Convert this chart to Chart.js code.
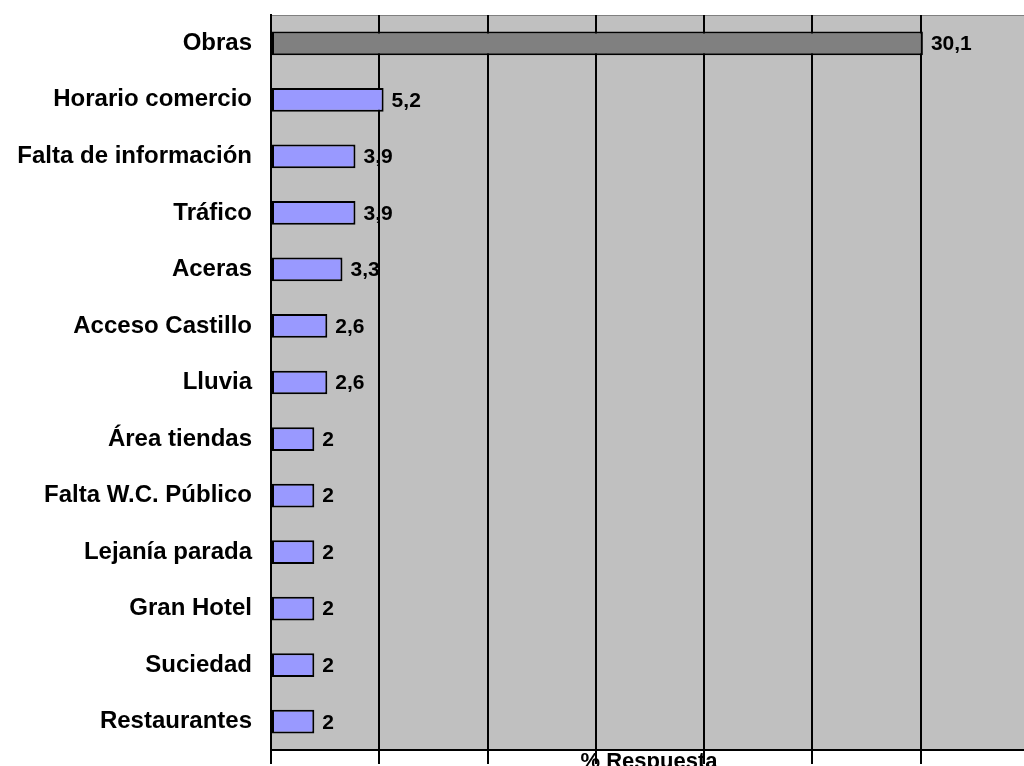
<!DOCTYPE html>
<html>
<head>
<meta charset="utf-8">
<script src="https://cdn.jsdelivr.net/npm/chart.js@4/dist/chart.umd.min.js"></script>
<style>
  html, body { margin: 0; padding: 0; background: #fff; overflow: hidden; }
  #chart { display: block; }
</style>
</head>
<body>
<canvas id="chart" width="1030" height="766"></canvas>
<script>
// datos
const categorias = ['Obras', 'Horario comercio', 'Falta de información', 'Tráfico', 'Aceras',
  'Acceso Castillo', 'Lluvia', 'Área tiendas', 'Falta W.C. Público', 'Lejanía parada',
  'Gran Hotel', 'Suciedad', 'Restaurantes'];
const valores = [30.1, 5.2, 3.9, 3.9, 3.3, 2.6, 2.6, 2, 2, 2, 2, 2, 2];
const ejeMin = 0;
const ejeMax = 35;
const paso = 5;
const tituloEje = '% Respuesta';

const FONT = 'Arial, "Liberation Sans", sans-serif';

/** fondo gris del área de trazado */
const fondoPlugin = {
  id: 'fondo',
  beforeDraw(chart) {
    const { ctx, chartArea: a } = chart;
    ctx.save();
    ctx.fillStyle = '#C0C0C0';
    ctx.fillRect(a.left, a.top, a.right - a.left, a.bottom - a.top);
    ctx.strokeStyle = '#808080';
    ctx.lineWidth = 1;
    ctx.beginPath();
    ctx.moveTo(a.left, a.top + 0.5);
    ctx.lineTo(a.right, a.top + 0.5);
    ctx.stroke();
    ctx.restore();
  }
};

/** etiquetas de valor y título del eje */
const etiquetasPlugin = {
  id: 'etiquetas',
  afterDatasetsDraw(chart) {
    const { ctx, chartArea: a } = chart;
    const meta = chart.getDatasetMeta(0);
    ctx.save();
    ctx.fillStyle = '#000';
    ctx.font = 'bold 21px ' + FONT;
    ctx.textAlign = 'left';
    ctx.textBaseline = 'middle';
    meta.data.forEach((bar, i) => {
      const txt = String(valores[i]).replace('.', ',');
      ctx.fillText(txt, bar.x + 8, bar.y + 1);
    });
    ctx.font = 'bold 22px ' + FONT;
    ctx.textAlign = 'center';
    ctx.textBaseline = 'alphabetic';
    ctx.fillText(tituloEje, (a.left + a.right) / 2 - 1, a.bottom + 18);
    ctx.restore();
  }
};

new Chart(document.getElementById('chart'), {
  type: 'bar',
  data: {
    labels: categorias,
    datasets: [{
      data: valores,
      backgroundColor: valores.map((v, i) => i === 0 ? '#808080' : '#9999FF'),
      borderColor: '#000',
      borderWidth: 2,
      borderSkipped: false,
      barPercentage: 0.42,
      categoryPercentage: 1
    }]
  },
  options: {
    indexAxis: 'y',
    responsive: false,
    animation: false,
    devicePixelRatio: 1,
    layout: { padding: { top: 15, right: 1, left: 0, bottom: 0 } },
    plugins: {
      legend: { display: false },
      tooltip: { enabled: false }
    },
    scales: {
      x: {
        min: ejeMin,
        max: ejeMax,
        ticks: { stepSize: paso, display: false },
        grid: { color: '#000', lineWidth: 2, drawTicks: true, tickLength: 14 },
        border: { color: '#000', width: 2 },
        afterFit(scale) {
          scale.height = 16;
          scale.paddingLeft = 0;
          scale.paddingRight = 0;
        }
      },
      y: {
        grid: { display: false, drawTicks: false },
        border: { color: '#000', width: 2 },
        ticks: {
          color: '#000',
          padding: 19,
          font: { family: FONT, size: 24, weight: 'bold' }
        },
        afterFit(scale) {
          scale.width = 271;
          scale.paddingTop = 0;
          scale.paddingBottom = 0;
        }
      }
    }
  },
  plugins: [fondoPlugin, etiquetasPlugin]
});
</script>
</body>
</html>
